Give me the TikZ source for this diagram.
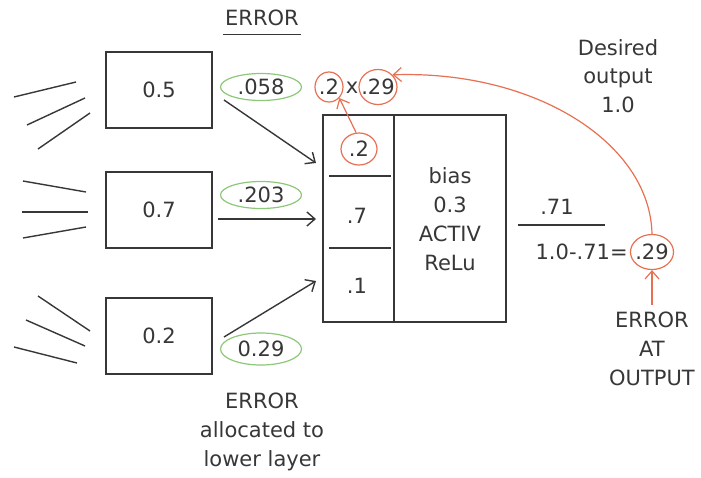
\documentclass[tikz,border=0pt]{standalone}
\usepackage{fontspec}
\setmainfont{DejaVu Sans}
\usetikzlibrary{positioning}
\usetikzlibrary{shapes.geometric}
\usetikzlibrary{arrows.meta}
\tikzset{>={Straight Barb[length=4pt,width=7pt]}}
\definecolor{ink}{RGB}{55,55,55}
\definecolor{errgreen}{RGB}{140,200,120}
\definecolor{errred}{RGB}{232,112,82}
\tikzset{
	% boxes of the lower layer
	unitbox/.style={draw=ink,line width=0.8pt,minimum width=53pt,minimum height=38pt,text=ink},
	% error values
	greenerr/.style={ellipse,draw=errgreen,line width=0.6pt,inner sep=0pt,minimum width=40.5pt,minimum height=13.5pt,text=ink},
	rederr/.style={ellipse,draw=errred,line width=0.6pt,inner sep=-3pt,text=ink},
	lbl/.style={text=ink,align=center,font=\fontsize{10.5}{14.4}\selectfont},
	wire/.style={draw=ink,line width=0.7pt},
	redarrow/.style={draw=errred,line width=0.6pt,->},
}

\begin{document}
\begin{tikzpicture}[x=0.5pt,y=-0.5pt,font=\fontsize{10.5}{14.4}\selectfont]
	\useasboundingbox (0,0) rectangle (701,477);
	
	\node[lbl,inner sep=1pt] (errtop) at (262,18) {ERROR};
	\draw[wire,line width=0.6pt] ([yshift=-3pt]errtop.south west) -- ([yshift=-3pt]errtop.south east);
	
	% lower layer
	\node[unitbox] (u1) at (159,90) {0.5};
	\node[unitbox] (u2) at (159,210) {0.7};
	\node[unitbox] (u3) at (159,336) {0.2};
	
	\foreach \a/\b/\c/\d in {14/97/76/82, 27/125/85/98, 38/149/90/113,
		23/181/86/192, 22/212/88/212, 23/238/86/227,
		38/296/90/331, 26/320/85/346, 14/347/77/363}
	\draw[wire] (\a,\b) -- (\c,\d);
	
	\node[greenerr] (e1) at (261,87) {.058};
	\node[greenerr] (e2) at (261,195) {.203};
	\node[greenerr,minimum height=16pt] (e3) at (261,349) {0.29};
	
	% neuron
	\node[draw=ink,line width=0.8pt,minimum width=91.5pt,minimum height=103.5pt] (neuron) at (414.5,218.5) {};
	\draw[wire,line width=0.8pt] (394,115) -- (394,322);
	\draw[wire] (329,176) -- (391,176);
	\draw[wire] (329,248) -- (391,248);
	
	\node[rederr,minimum width=18pt,minimum height=16pt] (c2) at (359,149) {.2};
	\node[lbl] (c7) at (357,216) {.7};
	\node[lbl] (c1) at (357,286) {.1};
	\node[lbl] (bias) at (450,219) {bias\\0.3\\ACTIV\\ReLu};
	
	\coordinate (s1) at (224,100);
	\coordinate (s2) at (218,219);
	\coordinate (s3) at (224,337);
	\coordinate (t1) at (316,163);
	\coordinate (t2) at (316,219);
	\coordinate (t3) at (316,281);
	\draw[wire,->] (s1) -- (t1);
	\draw[wire,->] (s2) -- (t2);
	\draw[wire,->] (s3) -- (t3);
	
	% product of the errors
	\node[rederr,minimum width=14pt,minimum height=15pt] (x2) at (329,87) {.2};
	\node[lbl,inner sep=0pt] (times) at (352,88) {x};
	\node[rederr,minimum width=19pt,minimum height=17.5pt] (x29) at (378,87) {.29};
	
	% output
	\node[lbl] (out) at (557,207) {.71};
	\draw[wire] (518,225) -- (605,225);
	\node[rederr,minimum width=21.5pt,minimum height=17.5pt] (o29) at (652,252) {.29};
	\node[lbl,inner sep=0pt,anchor=east] (diff) at (628,252) {1.0-.71=};
	\node[lbl] (desired) at (618,76) {Desired\\output\\1.0};
	\node[lbl] (errout) at (652,349) {ERROR\\AT\\OUTPUT};
	\node[lbl] (errlow) at (262,432) {ERROR\\allocated to\\lower layer};
	
	\draw[redarrow] (c2.100) -- (x2.south east);
	\draw[redarrow] (o29.north) .. controls (650,143) and (535,70) .. (x29.40);
	\draw[redarrow] (errout.north) -- (o29.south);
\end{tikzpicture}
\end{document}
